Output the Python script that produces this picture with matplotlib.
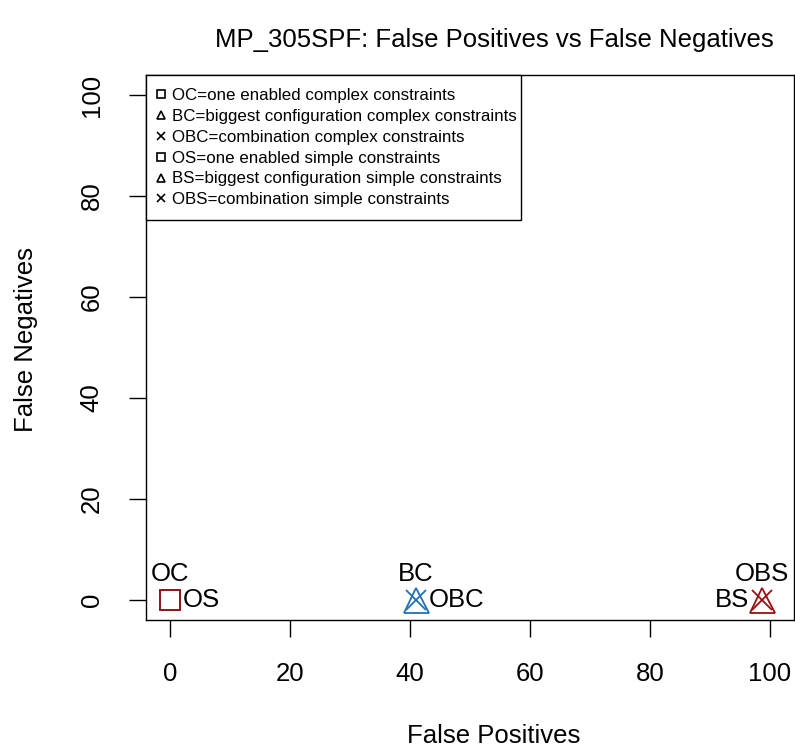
import matplotlib
matplotlib.use("Agg")
import matplotlib.pyplot as plt
from matplotlib.lines import Line2D

# ── Datos ─────────────────────────────────────────────────────────────────────
labels = ["OC", "BC", "OBC", "OS", "BS", "OBS"]
false_pos = [0, 41, 41, 0, 98.7, 98.7]
false_neg = [0, 0, 0, 0, 0, 0]
legend_text = [
    "OC=one enabled complex constraints",
    "BC=biggest configuration complex constraints",
    "OBC=combination complex constraints",
    "OS=one enabled simple constraints",
    "BS=biggest configuration simple constraints",
    "OBS=combination simple constraints",
]
x_ticks = [0, 20, 40, 60, 80, 100]
y_ticks = [0, 20, 40, 60, 80, 100]

# ── Estilo ────────────────────────────────────────────────────────────────────
BLUE = "#1f72b8"
RED = "#990f0f"
markers = ["s", "^", "x", "s", "^", "x"]
colors = [BLUE, BLUE, BLUE, RED, RED, RED]
sizes = [15, 18, 15, 15, 18, 15]
# posicion de la etiqueta: (dx, dy en px, ha, va)
offsets = [(0, 14, "center", "bottom"), (0, 14, "center", "bottom"),
           (13, 0, "left", "center"), (13, 0, "left", "center"),
           (-13, 0, "right", "center"), (0, 14, "center", "bottom")]

plt.rcParams["font.family"] = ["Liberation Sans", "DejaVu Sans"]
FS = 18.5

fig = plt.figure(figsize=(7.95, 7.54), dpi=100)
ax = fig.add_axes([146 / 795, 134 / 754, 648 / 795, 545 / 754])

for i, lab in enumerate(labels):
    ax.plot(false_pos[i], false_neg[i], marker=markers[i], ls="none",
            ms=sizes[i], mfc="none", mec=colors[i], mew=1.3)
    dx, dy, ha, va = offsets[i]
    ax.annotate(lab, (false_pos[i], false_neg[i]), xytext=(dx * 0.72, dy * 0.72),
                textcoords="offset points", ha=ha, va=va, fontsize=FS)

ax.set_xlim(-4, 104)
ax.set_ylim(-4, 104)
ax.set_xticks(x_ticks)
ax.set_yticks(y_ticks)
ax.tick_params(labelsize=FS, length=12.5, width=1, pad=18)
for lbl in ax.get_yticklabels():
    lbl.set_rotation(90)
    lbl.set_va("center")
for sp in ax.spines.values():
    sp.set_linewidth(1)

ax.set_xlabel("False Positives", fontsize=FS, labelpad=27, x=0.537)
ax.set_ylabel("False Negatives", fontsize=FS, labelpad=30, y=0.515)
ax.set_title("MP_305SPF: False Positives vs False Negatives", fontsize=FS,
             pad=20, x=0.537)

handles = [Line2D([], [], marker=m, ls="none", color="black", mfc="none",
                  ms=6, mew=1.2) for m in markers]
leg = ax.legend(handles, legend_text, loc="upper left", fontsize=12.2,
                bbox_to_anchor=(0, 0, 0.5787, 1), mode="expand",
                borderaxespad=0, fancybox=False, framealpha=1,
                edgecolor="black", labelspacing=0.35, handlelength=0.3,
                handletextpad=0.49, borderpad=0.75)
leg.get_frame().set_linewidth(1)

fig.savefig("out.png", dpi=100, facecolor="white")
